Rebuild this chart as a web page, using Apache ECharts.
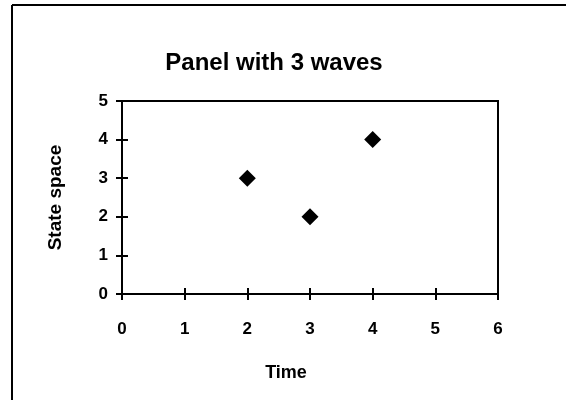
<!DOCTYPE html>
<html><head><meta charset="utf-8">
<script src="https://cdn.jsdelivr.net/npm/echarts@6/dist/echarts.min.js"></script>
<style>html,body{margin:0;padding:0;background:#fff}#c{width:566px;height:400px}</style>
</head><body><div id="c"></div>
<script>
const titleText = "Panel with 3 waves";
const xName = "Time";
const yName = "State space";
const timeValues = [2, 3, 4];
const stateValues = [3, 2, 4];

const chart = echarts.init(document.getElementById('c'), null, {renderer: 'canvas'});
const font = 'Liberation Sans, Arial, sans-serif';
const axisLine = {show: true, onZero: false, lineStyle: {color: '#000', width: 2}};
chart.setOption({
  backgroundColor: '#fff',
  animation: false,
  title: {text: titleText, left: 269, textAlign: 'center', top: 46,
    textStyle: {fontFamily: font, fontWeight: 'bold', fontSize: 24, color: '#000'}},
  graphic: [
    {type: 'line', shape: {x1: 12, y1: 5, x2: 566, y2: 5}, style: {stroke: '#000', lineWidth: 2}},
    {type: 'line', shape: {x1: 12, y1: 5, x2: 12, y2: 400}, style: {stroke: '#000', lineWidth: 2}}
  ],
  grid: {left: 122, top: 101, width: 376, height: 193, show: true, borderColor: '#000', borderWidth: 2, backgroundColor: 'transparent'},
  xAxis: [{type: 'value', min: 0, max: 6, interval: 1, name: xName, nameLocation: 'middle', nameGap: 70,
    nameTextStyle: {fontFamily: font, fontWeight: 'bold', fontSize: 18, color: '#000', padding: [0, 48, 0, 0]},
    axisLine: axisLine, splitLine: {show: false},
    axisTick: {show: true, inside: false, length: 6, lineStyle: {color: '#000', width: 2}},
    axisLabel: {fontFamily: font, fontWeight: 'bold', fontSize: 17, color: '#000', margin: 27}},
   {type: 'value', min: 0, max: 6, interval: 1, position: 'bottom',
    axisLine: {show: false}, splitLine: {show: false}, axisLabel: {show: false},
    axisTick: {show: true, inside: true, length: 6, lineStyle: {color: '#000', width: 2}}}],
  yAxis: [{type: 'value', min: 0, max: 5, interval: 1, name: yName, nameLocation: 'middle', nameGap: 57,
    nameTextStyle: {fontFamily: font, fontWeight: 'bold', fontSize: 19, color: '#000'},
    axisLine: axisLine, splitLine: {show: false},
    axisTick: {show: true, length: 6, lineStyle: {color: '#000', width: 2}},
    axisLabel: {fontFamily: font, fontWeight: 'bold', fontSize: 17, color: '#000', margin: 14}},
   {type: 'value', min: 0, max: 5, interval: 1, position: 'left',
    axisLine: {show: false}, splitLine: {show: false}, axisLabel: {show: false},
    axisTick: {show: true, inside: true, length: 6, lineStyle: {color: '#000', width: 2}}}],
  series: [
    {type: 'scatter', data: timeValues.map((t, i) => [t, stateValues[i]]), symbol: 'diamond', symbolSize: 17,
     itemStyle: {color: '#000', opacity: 1}}
  ]
});
</script>
</body></html>
